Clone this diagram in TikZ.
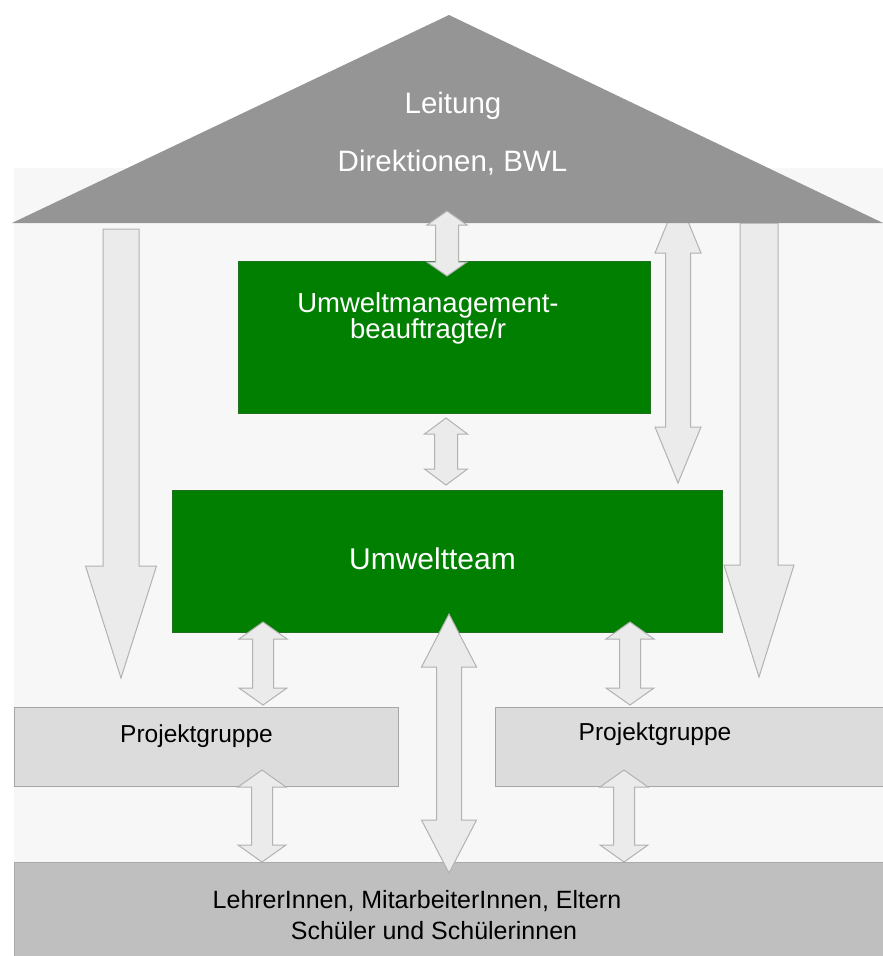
\documentclass[tikz,border=0pt]{standalone}
\usepackage{fontspec}
\setmainfont{Liberation Sans}
\definecolor{bgc}{HTML}{F7F7F7}
\definecolor{roofc}{HTML}{959595}
\definecolor{greenc}{HTML}{007F00}
\definecolor{greenline}{HTML}{1F701F}
\definecolor{arrfill}{HTML}{EBEBEB}
\definecolor{arrline}{HTML}{B2B2B2}
\definecolor{pgfill}{HTML}{DCDCDC}
\definecolor{pgline}{HTML}{A6A6A6}
\definecolor{botfill}{HTML}{BFBFBF}
\definecolor{botline}{HTML}{ABABAB}
\tikzset{
  arr/.style={fill=arrfill, draw=arrline, line width=1pt, line join=miter},
  greenbox/.style={fill=greenc, draw=greenline, line width=1pt, inner sep=0pt, anchor=north west},
  pgbox/.style={fill=pgfill, draw=pgline, line width=1.2pt, inner sep=0pt, anchor=north west},
  botbox/.style={fill=botfill, draw=botline, line width=1.2pt, inner sep=0pt, anchor=north west},
  whitetxt/.style={text=white, inner sep=0pt, anchor=base},
  blacktxt/.style={text=black, inner sep=0pt, anchor=base}
}
% double block arrow: x, y top tip, y bottom tip, shaft half width, head half width, head length
\newcommand\dblarr[6]{%
  \draw[arr] (#1,#2) -- (#1+#5,#2+#6) -- (#1+#4,#2+#6) -- (#1+#4,#3-#6) -- (#1+#5,#3-#6) -- (#1,#3)
    -- (#1-#5,#3-#6) -- (#1-#4,#3-#6) -- (#1-#4,#2+#6) -- (#1-#5,#2+#6) -- cycle;}
% single downward block arrow: x, y top, y tip, shaft half width, head half width, head length
\newcommand\downarr[6]{%
  \draw[arr] (#1-#4,#2) -- (#1+#4,#2) -- (#1+#4,#3-#6) -- (#1+#5,#3-#6) -- (#1,#3)
    -- (#1-#5,#3-#6) -- (#1-#4,#3-#6) -- cycle;}
\begin{document}
\begin{tikzpicture}[x=1pt, y=-1pt]
\useasboundingbox (0,0) rectangle (883,956);
\fill[white] (0,0) rectangle (883,956);
\fill[bgc] (14,168) rectangle (883,956);

% tall right double arrow (partly behind roof)
\dblarr{678}{197}{483}{12.5}{23}{56}
% big down arrows
\downarr{759}{223}{677}{19}{35}{112}

% roof
\fill[roofc] (12,223) -- (449,15) -- (883,223) -- cycle;
\node[whitetxt, font=\fontsize{29.5}{34}\selectfont] (leit) at (453,113) {Leitung};
\node[whitetxt, font=\fontsize{29.5}{34}\selectfont] (dir) at (452.5,171) {Direktionen, BWL};

\downarr{121}{229}{678}{18}{35.5}{112}

% boxes
\node[greenbox, minimum width=412pt, minimum height=152pt] (b1) at (238,261) {};
\node[greenbox, minimum width=550pt, minimum height=142pt] (b2) at (172,490) {};
\node[pgbox, minimum width=384pt, minimum height=79pt] (pg1) at (14,707) {};
\node[pgbox, minimum width=400pt, minimum height=79pt] (pg2) at (495,707) {};
\node[botbox, minimum width=880pt, minimum height=100pt] (bot) at (14,862) {};

% connecting arrows
\dblarr{447}{211}{276}{11.5}{20}{14}
\dblarr{446}{418}{485}{11.5}{21.5}{16}
\dblarr{263}{622}{705}{10.5}{24}{17}
\dblarr{630}{622}{705}{10.5}{24}{17}
\dblarr{449}{614}{873}{12.5}{27.5}{53}
\dblarr{262}{770}{862}{10.5}{24}{17}
\dblarr{624}{770}{862}{10.5}{24}{17}

% texts
\node[whitetxt, font=\fontsize{27.5}{26}\selectfont, align=center] (t1) at (428,338) {Umweltmanagement-\\beauftragte/r};
\node[whitetxt, font=\fontsize{30}{34}\selectfont] (t2) at (432.5,569) {Umweltteam};
\node[blacktxt, font=\fontsize{24.5}{28}\selectfont] (t3) at (196.5,742) {Projektgruppe};
\node[blacktxt, font=\fontsize{24.5}{28}\selectfont] (t4) at (655,740) {Projektgruppe};
\node[blacktxt, font=\fontsize{25}{30}\selectfont] (t5) at (417,908) {LehrerInnen, MitarbeiterInnen, Eltern};
\node[blacktxt, font=\fontsize{25}{30}\selectfont] (t6) at (434,939) {Schüler und Schülerinnen};
\end{tikzpicture}
\end{document}
